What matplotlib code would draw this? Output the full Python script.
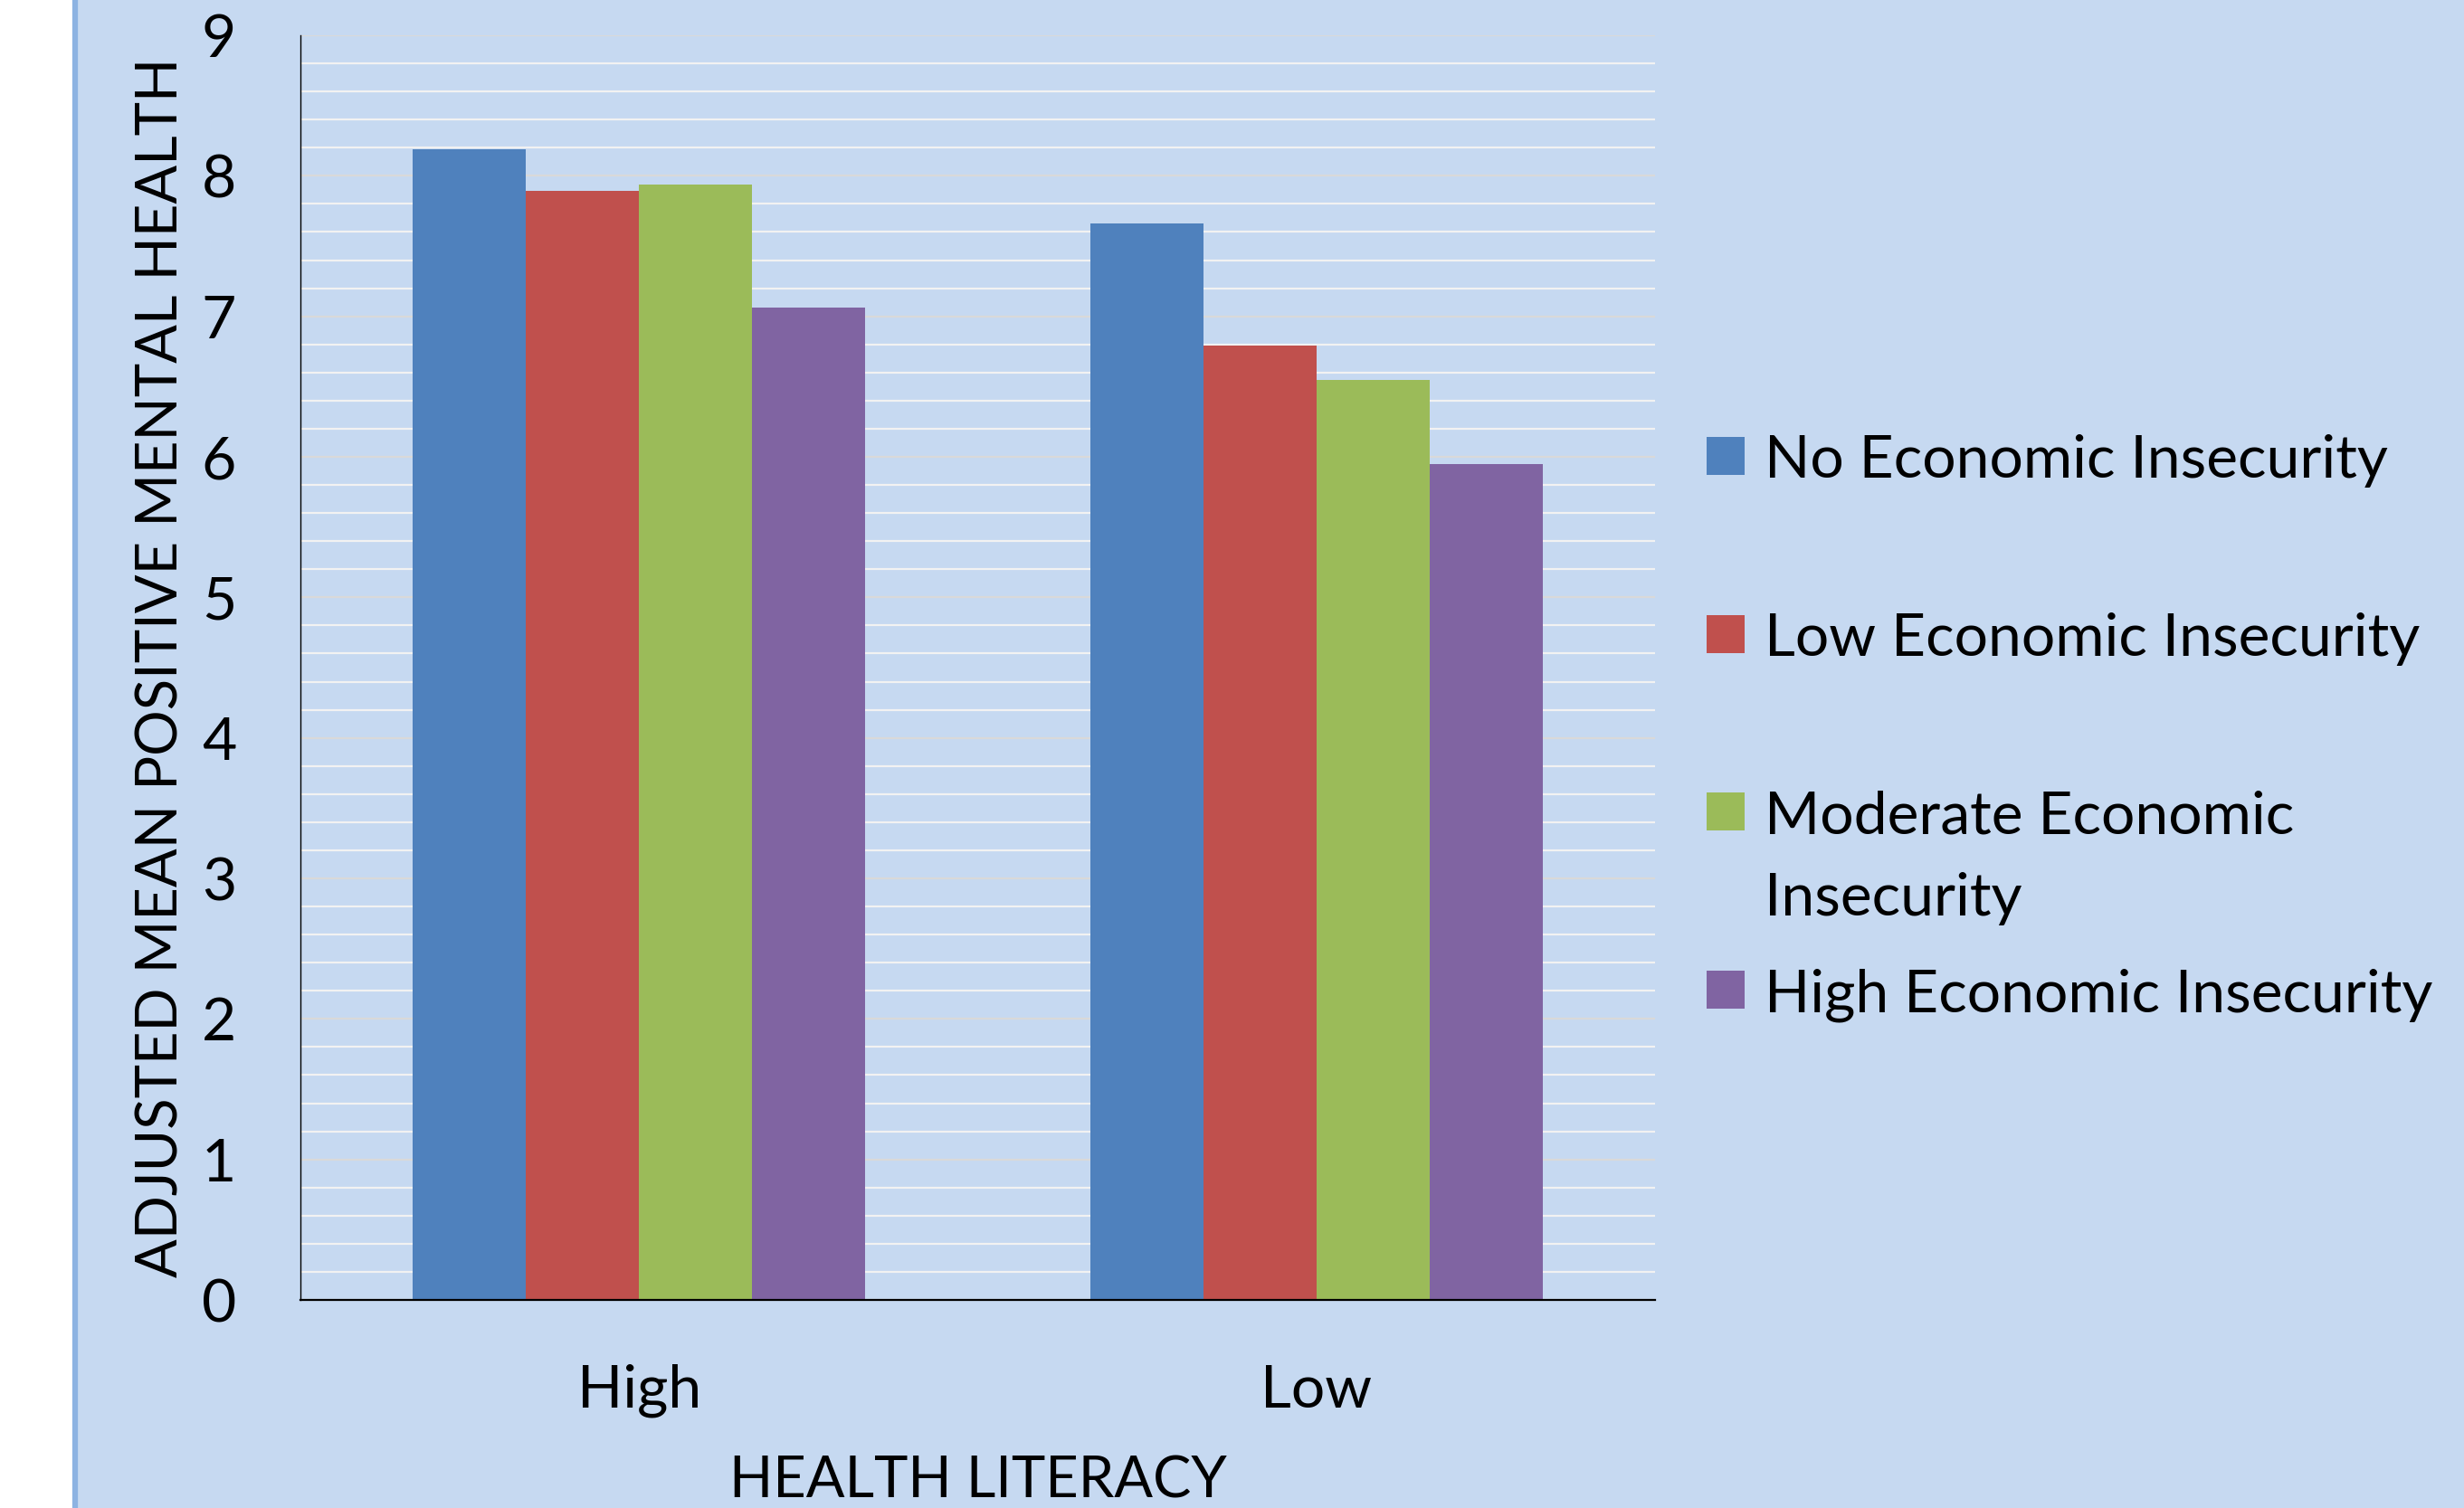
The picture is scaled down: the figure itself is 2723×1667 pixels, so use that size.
import numpy as np
import matplotlib
matplotlib.use("Agg")
from matplotlib import pyplot as plt
from matplotlib.patches import Rectangle
from matplotlib.lines import Line2D

# adjusted mean positive mental health by health literacy and economic insecurity
literacy_levels = ["High", "Low"]
insecurity_groups = [
    "No Economic Insecurity",
    "Low Economic Insecurity",
    "Moderate Economic\nInsecurity",
    "High Economic Insecurity",
]
no_insecurity = [8.19, 7.66]
low_insecurity = [7.89, 6.79]
moderate_insecurity = [7.94, 6.55]
high_insecurity = [7.06, 5.95]

y_ticks = [0, 1, 2, 3, 4, 5, 6, 7, 8, 9]

bar_colors = ["#4F81BD", "#C0504D", "#9BBB59", "#8064A2"]
panel_color = "#C6D9F1"

plt.rcParams["font.family"] = ["Lato", "DejaVu Sans"]
FS = 47.5
LABEL_FS = 45.5

W, H = 2723, 1667
fig = plt.figure(figsize=(W / 100, H / 100), dpi=100, facecolor=panel_color)

# white margin and border line on the left
fig.patches.append(Rectangle((0, 0), 80 / W, 1, transform=fig.transFigure,
                             facecolor="white", edgecolor="none", zorder=0))
fig.lines.append(Line2D([83 / W, 83 / W], [0, 1], transform=fig.transFigure,
                        color="#8DB3E2", linewidth=4.5, zorder=1))

ax = fig.add_axes([332 / W, 1 - 1437 / H, (1829 - 332) / W, (1437 - 39) / H])
ax.set_facecolor(panel_color)

series = [no_insecurity, low_insecurity, moderate_insecurity, high_insecurity]
x = np.arange(len(literacy_levels))
width = 0.167
for i, vals in enumerate(series):
    offset = (i - 1.5) * width
    ax.bar(x + offset, vals, width, color=bar_colors[i], linewidth=0, zorder=3)

ax.set_xlim(-0.5, 1.5)
ax.set_ylim(0, 9)
ax.set_xticks(x)
ax.set_xticklabels(literacy_levels, fontsize=FS)
ax.set_yticks(y_ticks)
ax.set_yticklabels([str(t) for t in y_ticks], fontsize=FS)
ax.tick_params(axis="x", length=0, pad=51)
ax.tick_params(axis="y", length=0, pad=51)

# gridlines: white every 0.2, gray on whole numbers
ax.set_yticks(np.arange(0, 9.01, 0.2), minor=True)
ax.tick_params(axis="y", which="minor", length=0)
ax.grid(axis="y", which="minor", color="#F2F2F2", linewidth=1.6, zorder=0)
ax.grid(axis="y", which="major", color="#D9D9D9", linewidth=1.6, zorder=1)
ax.set_axisbelow(True)

for s in ["top", "right"]:
    ax.spines[s].set_visible(False)
ax.spines["left"].set_linewidth(1.0)
ax.spines["bottom"].set_linewidth(1.6)
ax.spines["left"].set_zorder(4)
ax.spines["bottom"].set_zorder(4)

ax.set_xlabel("HEALTH LITERACY", fontsize=LABEL_FS)
ax.xaxis.set_label_coords(0.5, -0.123)
ax.set_ylabel("ADJUSTED MEAN POSITIVE MENTAL HEALTH", fontsize=LABEL_FS)
ax.yaxis.set_label_coords(-0.083, 0.5)

# legend on the right; wrapped labels continue below the first line
legend_rows = [504, 701, 897, 1094]
line_step = 91
for lbl, col, yc in zip(insecurity_groups, bar_colors, legend_rows):
    fig.patches.append(Rectangle((1886 / W, 1 - (yc + 21) / H), 42 / W, 42 / H,
                                 transform=fig.transFigure, facecolor=col,
                                 edgecolor="none"))
    for k, part in enumerate(lbl.split("\n")):
        fig.text(1950 / W, 1 - (yc + 24 + k * line_step) / H, part,
                 fontsize=FS, ha="left", va="baseline")

fig.savefig("out.png", dpi=100, facecolor=panel_color)
